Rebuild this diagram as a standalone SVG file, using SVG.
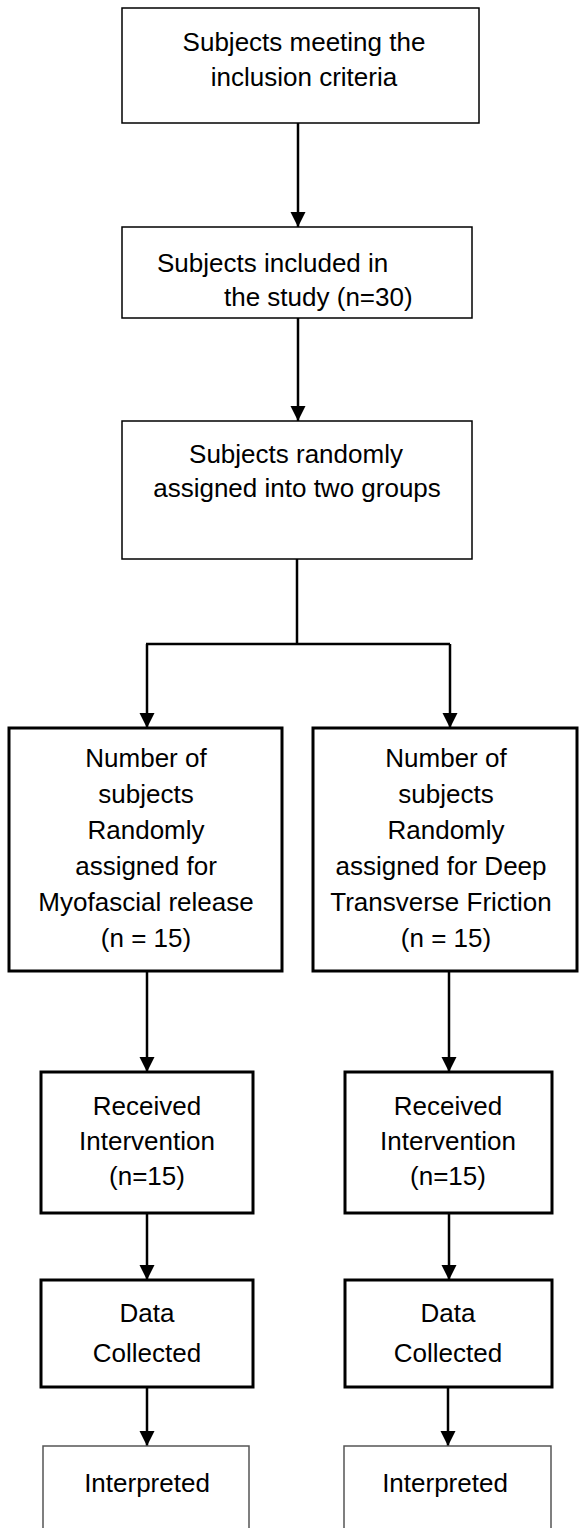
<svg xmlns="http://www.w3.org/2000/svg" width="579" height="1528" viewBox="0 0 579 1528">
<defs>
<style>
.thin{fill:#fff;stroke:#000;stroke-width:1.5}
.thick{fill:#fff;stroke:#000;stroke-width:3}
.grey{fill:#fff;stroke:#555;stroke-width:1.5}
.t{font-family:"Liberation Sans",Arial,sans-serif;font-size:26px;fill:#000;text-anchor:middle}
.ts{font-family:"Liberation Sans",Arial,sans-serif;font-size:26px;fill:#000}
.c{fill:none;stroke:#000;stroke-width:2.5}
</style>
<marker id="ah" markerUnits="userSpaceOnUse" markerWidth="16" markerHeight="16" refX="15" refY="7.5" orient="auto" viewBox="0 0 16 16">
<path d="M0,0 L15,7.5 L0,15 z" fill="#000"/>
</marker>
</defs>
<g id="connectors">
<line class="c" x1="298" y1="123" x2="298" y2="227" marker-end="url(#ah)"/>
<line class="c" x1="298" y1="318" x2="298" y2="421" marker-end="url(#ah)"/>
<polyline class="c" points="297,559 297,644"/>
<polyline class="c" points="146,644 450,644"/>
<line class="c" x1="147" y1="644" x2="147" y2="728" marker-end="url(#ah)"/>
<line class="c" x1="450" y1="644" x2="450" y2="728" marker-end="url(#ah)"/>
<line class="c" x1="147" y1="971" x2="147" y2="1072" marker-end="url(#ah)"/>
<line class="c" x1="449" y1="971" x2="449" y2="1072" marker-end="url(#ah)"/>
<line class="c" x1="147" y1="1213" x2="147" y2="1280" marker-end="url(#ah)"/>
<line class="c" x1="449" y1="1213" x2="449" y2="1280" marker-end="url(#ah)"/>
<line class="c" x1="147" y1="1387" x2="147" y2="1446" marker-end="url(#ah)"/>
<line class="c" x1="448" y1="1387" x2="448" y2="1446" marker-end="url(#ah)"/>
</g>
<g id="n1">
<rect class="thin" x="122" y="8" width="357" height="115"/>
<text class="t" x="304" y="51">Subjects meeting the</text>
<text class="t" x="304" y="86">inclusion criteria</text>
</g>
<g id="n2">
<rect class="thin" x="122" y="227" width="350" height="91"/>
<text class="ts" x="157" y="272">Subjects included in</text>
<text class="ts" x="224" y="306">the study (n=30)</text>
</g>
<g id="n3">
<rect class="thin" x="122" y="421" width="350" height="138"/>
<text class="t" x="296" y="463">Subjects randomly</text>
<text class="t" x="297" y="497">assigned into two groups</text>
</g>
<g id="n4">
<rect class="thick" x="9" y="728" width="273" height="243"/>
<text class="t" x="146" y="767">Number of</text>
<text class="t" x="146" y="803">subjects</text>
<text class="t" x="146" y="839">Randomly</text>
<text class="t" x="146" y="875">assigned for</text>
<text class="t" x="146" y="911">Myofascial release</text>
<text class="t" x="146" y="947">(n = 15)</text>
</g>
<g id="n5">
<rect class="thick" x="313" y="728" width="264" height="243"/>
<text class="t" x="446" y="767">Number of</text>
<text class="t" x="446" y="803">subjects</text>
<text class="t" x="446" y="839">Randomly</text>
<text class="t" x="441" y="875">assigned for Deep</text>
<text class="t" x="441" y="911">Transverse Friction</text>
<text class="t" x="446" y="947">(n = 15)</text>
</g>
<g id="n6">
<rect class="thick" x="41" y="1072" width="212" height="141"/>
<text class="t" x="147" y="1115">Received</text>
<text class="t" x="147" y="1150">Intervention</text>
<text class="t" x="147" y="1185">(n=15)</text>
</g>
<g id="n7">
<rect class="thick" x="345" y="1072" width="207" height="141"/>
<text class="t" x="448" y="1115">Received</text>
<text class="t" x="448" y="1150">Intervention</text>
<text class="t" x="448" y="1185">(n=15)</text>
</g>
<g id="n8">
<rect class="thick" x="41" y="1280" width="212" height="107"/>
<text class="t" x="147" y="1322">Data</text>
<text class="t" x="147" y="1362">Collected</text>
</g>
<g id="n9">
<rect class="thick" x="345" y="1280" width="207" height="107"/>
<text class="t" x="448" y="1322">Data</text>
<text class="t" x="448" y="1362">Collected</text>
</g>
<g id="n10">
<rect class="grey" x="43" y="1446" width="206" height="100"/>
<text class="t" x="147" y="1492">Interpreted</text>
</g>
<g id="n11">
<rect class="grey" x="344" y="1446" width="207" height="100"/>
<text class="t" x="445" y="1492">Interpreted</text>
</g>
</svg>
